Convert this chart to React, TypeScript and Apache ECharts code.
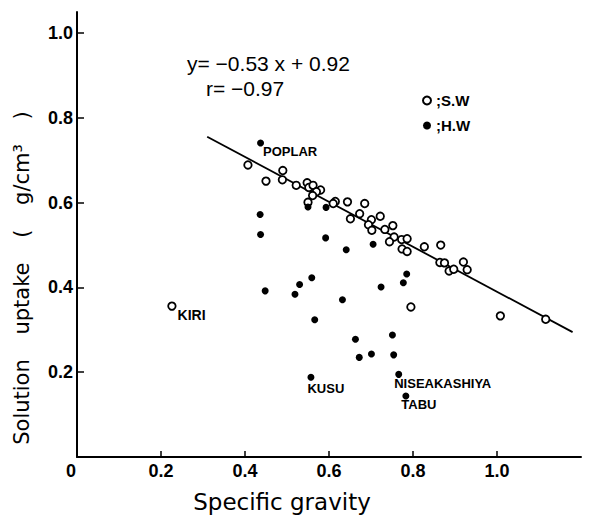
import React, { useEffect, useRef } from "react";
import * as echarts from "echarts";

// Softwood (S.W) points: [specific gravity, solution uptake]
const swData: [number, number][] = [
  [0.407, 0.689], [0.45, 0.651], [0.49, 0.676], [0.489, 0.654], [0.522, 0.641],
  [0.548, 0.647], [0.552, 0.636], [0.562, 0.641], [0.58, 0.63], [0.57, 0.626],
  [0.561, 0.617], [0.55, 0.601], [0.615, 0.603], [0.61, 0.598], [0.644, 0.602],
  [0.685, 0.598], [0.673, 0.574], [0.651, 0.562], [0.701, 0.56], [0.722, 0.568],
  [0.694, 0.548], [0.702, 0.535], [0.733, 0.537], [0.752, 0.546], [0.755, 0.519],
  [0.744, 0.508], [0.773, 0.513], [0.786, 0.515], [0.774, 0.491], [0.786, 0.485],
  [0.827, 0.496], [0.866, 0.5], [0.864, 0.459], [0.875, 0.458], [0.886, 0.439],
  [0.897, 0.443], [0.92, 0.46], [0.929, 0.442], [0.795, 0.354], [1.008, 0.333],
  [1.116, 0.325],
];
const swNamed = [{ name: "KIRI", value: [0.226, 0.356] }];

// Hardwood (H.W) points
const hwData: [number, number][] = [
  [0.436, 0.572], [0.437, 0.525], [0.55, 0.59], [0.593, 0.589], [0.592, 0.517],
  [0.641, 0.489], [0.705, 0.502], [0.785, 0.432], [0.777, 0.411], [0.724, 0.401],
  [0.559, 0.423], [0.53, 0.407], [0.519, 0.384], [0.448, 0.392], [0.632, 0.371],
  [0.566, 0.324], [0.663, 0.278], [0.751, 0.288], [0.701, 0.243], [0.672, 0.235],
  [0.754, 0.241],
];
const hwNamed = [
  { name: "POPLAR", value: [0.437, 0.741] },
  { name: "KUSU", value: [0.557, 0.188] },
  { name: "NISEAKASHIYA", value: [0.766, 0.195] },
  { name: "TABU", value: [0.783, 0.144] },
];

// Regression y = -0.53x + 0.92, r = -0.97
const fitSlope = -0.53;
const fitIntercept = 0.92;
const fitRange = [0.31, 1.18];

const xLabelValues = [0, 0.2, 0.4, 0.6, 0.8, 1.0];
const xTickValues = [0.2, 0.4, 0.6, 0.8, 1.0];
const yLabelValues = [0.2, 0.4, 0.6, 0.8, 1.0];

const labelOffsets: Record<string, [number, number]> = {
  POPLAR: [-1, 9],
  KIRI: [1, 9],
  KUSU: [-7, 11],
  NISEAKASHIYA: [-8, 9],
  TABU: [-8, 9],
};

const labelFont = {
  fontFamily: "Liberation Sans",
  fontWeight: "bold" as const,
  color: "#000",
};

function named(items: { name: string; value: number[] }[], size: number) {
  return items.map((it) => ({
    value: it.value,
    label: {
      show: true,
      position: "right",
      distance: 0,
      offset: labelOffsets[it.name],
      formatter: it.name,
      fontSize: size,
      ...labelFont,
    },
  }));
}

export default function App() {
  const ref = useRef<HTMLDivElement>(null);
  useEffect(() => {
    if (!ref.current) return;
    const chart = echarts.init(ref.current, null, { renderer: "svg" });
    const fitLine = fitRange.map((x) => [x, fitSlope * x + fitIntercept]);
    chart.setOption({
      animation: false,
      backgroundColor: "#fff",
      grid: { left: 77, right: 16, top: 12, bottom: 59 },
      legend: {
        data: ["S.W", "H.W"],
        orient: "vertical",
        left: 417,
        top: 88,
        itemWidth: 8,
        itemHeight: 8,
        itemGap: 10,
        icon: "circle",
        formatter: (n: string) => ";" + n,
        textStyle: { fontSize: 15, ...labelFont },
      },
      xAxis: {
        type: "value",
        min: 0,
        max: 1.2,
        interval: 0.2,
        splitLine: { show: false },
        axisLine: { lineStyle: { color: "#000", width: 2 } },
        axisTick: {
          inside: true,
          length: 6,
          customValues: xTickValues,
          lineStyle: { color: "#000", width: 1.5 },
        },
        axisLabel: {
          customValues: xLabelValues,
          margin: 5,
          fontSize: 18,
          ...labelFont,
          formatter: (v: number) => (v === 0 ? "{z|0}" : v.toFixed(1)),
          rich: { z: { fontSize: 18, ...labelFont, padding: [0, 12, 0, 0] } },
        },
      },
      yAxis: {
        type: "value",
        min: 0,
        max: 1.05,
        interval: 0.2,
        splitLine: { show: false },
        axisLine: { lineStyle: { color: "#000", width: 2 } },
        axisTick: {
          inside: true,
          length: 7,
          customValues: yLabelValues,
          lineStyle: { color: "#000", width: 1.5 },
        },
        axisLabel: {
          customValues: yLabelValues,
          margin: 4,
          fontSize: 18,
          ...labelFont,
          formatter: (v: number) => v.toFixed(1),
        },
      },
      graphic: [
        {
          type: "text",
          x: 187,
          y: 63,
          style: {
            text: "y= −0.53 x + 0.92",
            font: "21px 'Liberation Sans'",
            fill: "#000",
            textAlign: "left",
            textVerticalAlign: "middle",
          },
        },
        {
          type: "text",
          x: 206,
          y: 88,
          style: {
            text: "r= −0.97",
            font: "21px 'Liberation Sans'",
            fill: "#000",
            textAlign: "left",
            textVerticalAlign: "middle",
          },
        },
        {
          type: "text",
          x: 282,
          y: 502,
          style: {
            text: "Specific gravity",
            font: "23px 'DejaVu Sans'",
            fill: "#000",
            textAlign: "center",
            textVerticalAlign: "middle",
          },
        },
        {
          type: "text",
          x: 22,
          y: 278,
          rotation: Math.PI / 2,
          style: {
            text: "{w|Solution }{w|uptake }{w|( }{w|g/cm³ }{p|)}",
            font: "21px 'DejaVu Sans'",
            fill: "#000",
            textAlign: "center",
            textVerticalAlign: "middle",
            rich: {
              w: { fontFamily: "DejaVu Sans", fontSize: 21, fill: "#000", padding: [0, 18, 0, 0] },
              p: { fontFamily: "DejaVu Sans", fontSize: 21, fill: "#000" },
            },
          },
        },
      ],
      series: [
        {
          name: "fit",
          type: "line",
          data: fitLine,
          showSymbol: false,
          silent: true,
          lineStyle: { color: "#000", width: 1.8 },
          z: 1,
        },
        {
          name: "S.W",
          type: "scatter",
          symbol: "circle",
          symbolSize: 7.5,
          itemStyle: { color: "#fff", borderColor: "#000", borderWidth: 1.8, opacity: 1 },
          data: [...swData, ...named(swNamed, 14)],
          z: 3,
        },
        {
          name: "H.W",
          type: "scatter",
          symbol: "circle",
          symbolSize: 7,
          itemStyle: { color: "#000", opacity: 1 },
          data: [...hwData, ...named(hwNamed, 13)],
          z: 4,
        },
      ],
    });
    return () => chart.dispose();
  }, []);
  return (
    <div
      ref={ref}
      style={{ position: "absolute", left: 0, top: 0, width: 597, height: 516, background: "#fff" }}
    />
  );
}
